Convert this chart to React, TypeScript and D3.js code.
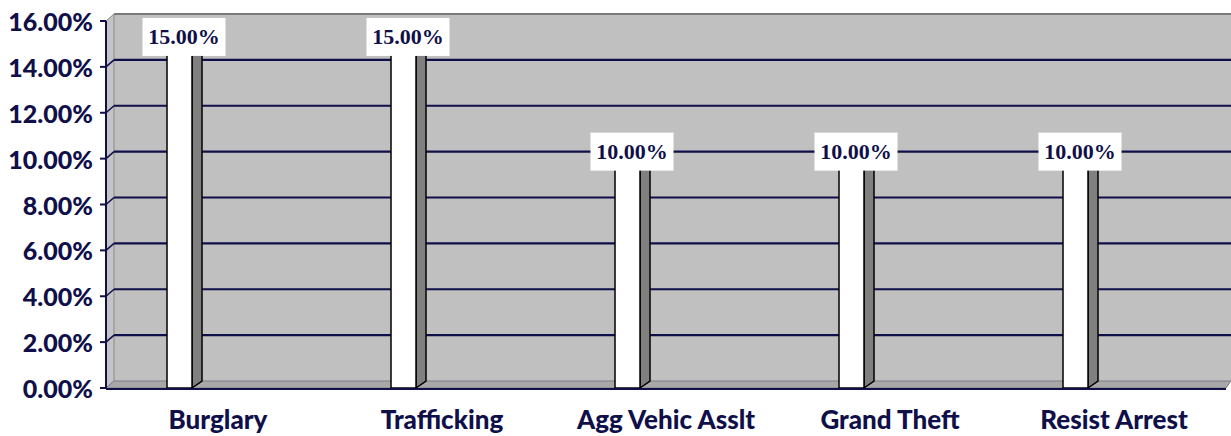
import React, { useRef, useEffect } from 'react';
import { select, scaleLinear, scaleBand, format } from "d3";

const categories = ["Burglary", "Trafficking", "Agg Vehic Asslt", "Grand Theft", "Resist Arrest"];
const values = [0.15, 0.15, 0.10, 0.10, 0.10];
const yTicks = [0, 0.02, 0.04, 0.06, 0.08, 0.10, 0.12, 0.14, 0.16];

function App() {
  const rootRef = useRef<SVGSVGElement>(null);
  const width = 1231;
  const height = 436;
  const left = 106;
  const right = 1226;
  const bottom = 388;
  const top = 21;
  const dx = 8;   // depth offset of the back wall
  const dy = -7;
  const navy = "#0f0f4a";

  useEffect(() => {
    const root = select(rootRef.current)
      .attr("viewBox", `0, 0, ${width}, ${height}`);
    root.selectAll("*").remove();

    const yScale = scaleLinear().domain([0, 0.16]).range([bottom, top]);
    const xScale = scaleBand().domain(categories).range([left, right]);
    const pct = format(".2%");

    // back wall
    root.append("rect")
      .attr("x", left + dx).attr("y", yScale(0.16) + dy)
      .attr("width", width - left - dx).attr("height", yScale(0) - yScale(0.16))
      .attr("fill", "#c0c0c0");
    // side wall
    root.append("polygon")
      .attr("points", `${left},${yScale(0)} ${left + dx},${yScale(0) + dy} ${left + dx},${yScale(0.16) + dy} ${left},${yScale(0.16)}`)
      .attr("fill", "#c4c4c4").attr("stroke", "#8a8a8a").attr("stroke-width", 1);
    // top edge of back wall
    root.append("line")
      .attr("x1", left + dx).attr("x2", width)
      .attr("y1", yScale(0.16) + dy).attr("y2", yScale(0.16) + dy)
      .attr("stroke", "#7a7a7a").attr("stroke-width", 2);
    // floor
    root.append("polygon")
      .attr("points", `${left},${yScale(0)} ${left + dx},${yScale(0) + dy} ${width},${yScale(0) + dy} ${right},${yScale(0)}`)
      .attr("fill", "#a8a8a8").attr("stroke", "#7d7d8f").attr("stroke-width", 1);

    // gridlines
    const grid = root.append("g");
    yTicks.filter(t => t > 0 && t < 0.16).forEach(t => {
      grid.append("line")
        .attr("x1", left + dx).attr("x2", width)
        .attr("y1", yScale(t) + dy).attr("y2", yScale(t) + dy)
        .attr("stroke", navy).attr("stroke-width", 2.2);
      grid.append("line")
        .attr("x1", left).attr("x2", left + dx)
        .attr("y1", yScale(t)).attr("y2", yScale(t) + dy)
        .attr("stroke", navy).attr("stroke-width", 1.5);
    });

    // bars
    const bw = 25;
    const sd = 10;
    const bars = root.append("g").selectAll("g")
      .data(categories.map((c, i) => ({ c, v: values[i] })))
      .enter().append("g");

    bars.append("polygon")
      .attr("points", d => {
        const x0 = (xScale(d.c) as number) + xScale.bandwidth() / 2 - 51;
        const x1 = x0 + bw;
        return `${x1},${yScale(0)} ${x1 + sd},${yScale(0) + dy} ${x1 + sd},${yScale(d.v) + dy} ${x1},${yScale(d.v)}`;
      })
      .attr("fill", "#808080").attr("stroke", "#000").attr("stroke-width", 1.5);
    bars.append("rect")
      .attr("x", d => (xScale(d.c) as number) + xScale.bandwidth() / 2 - 51)
      .attr("y", d => yScale(d.v))
      .attr("width", bw)
      .attr("height", d => yScale(0) - yScale(d.v))
      .attr("fill", "#ffffff").attr("stroke", "#000").attr("stroke-width", 1.5);

    // data labels
    bars.append("rect")
      .attr("x", d => (xScale(d.c) as number) + xScale.bandwidth() / 2 - 34 - 41.5)
      .attr("y", d => yScale(d.v) - 26)
      .attr("width", 83).attr("height", 38)
      .attr("fill", "#ffffff");
    bars.append("text")
      .attr("x", d => (xScale(d.c) as number) + xScale.bandwidth() / 2 - 34)
      .attr("y", d => yScale(d.v) - 7)
      .attr("text-anchor", "middle")
      .attr("dominant-baseline", "central")
      .style("font-family", "'Liberation Serif', serif")
      .style("font-weight", "bold")
      .style("font-size", "22px")
      .attr("fill", navy)
      .text(d => pct(d.v));

    // y axis
    const yAxis = root.append("g");
    yAxis.append("line")
      .attr("x1", left).attr("x2", left)
      .attr("y1", yScale(0.16)).attr("y2", yScale(0) + 1)
      .attr("stroke", navy).attr("stroke-width", 2);
    yTicks.forEach(t => {
      yAxis.append("line")
        .attr("x1", left - 6).attr("x2", left)
        .attr("y1", yScale(t)).attr("y2", yScale(t))
        .attr("stroke", navy).attr("stroke-width", 2);
      yAxis.append("text")
        .attr("x", 93).attr("y", yScale(t))
        .attr("text-anchor", "end")
        .attr("dominant-baseline", "central")
        .style("font-family", "Lato, sans-serif")
        .style("font-weight", 900)
        .style("font-size", "25px")
        .attr("fill", navy)
        .text(pct(t));
    });

    // x axis
    root.append("line")
      .attr("x1", left).attr("x2", right)
      .attr("y1", yScale(0) + 1).attr("y2", yScale(0) + 1)
      .attr("stroke", navy).attr("stroke-width", 2);
    root.append("g").selectAll("text")
      .data(categories)
      .enter().append("text")
      .attr("x", d => (xScale(d) as number) + xScale.bandwidth() / 2)
      .attr("y", 419)
      .attr("text-anchor", "middle")
      .attr("dominant-baseline", "central")
      .style("font-family", "Lato, sans-serif")
      .style("font-weight", 900)
      .style("font-size", "26px")
      .attr("fill", navy)
      .text(d => d);
  });

  return (
    <div style={{ position: 'absolute', left: 0, top: 0 }}>
      <svg style={{ width: 1231, height: 436, display: 'block' }} ref={rootRef}></svg>
    </div>
  );
}

export default App;
